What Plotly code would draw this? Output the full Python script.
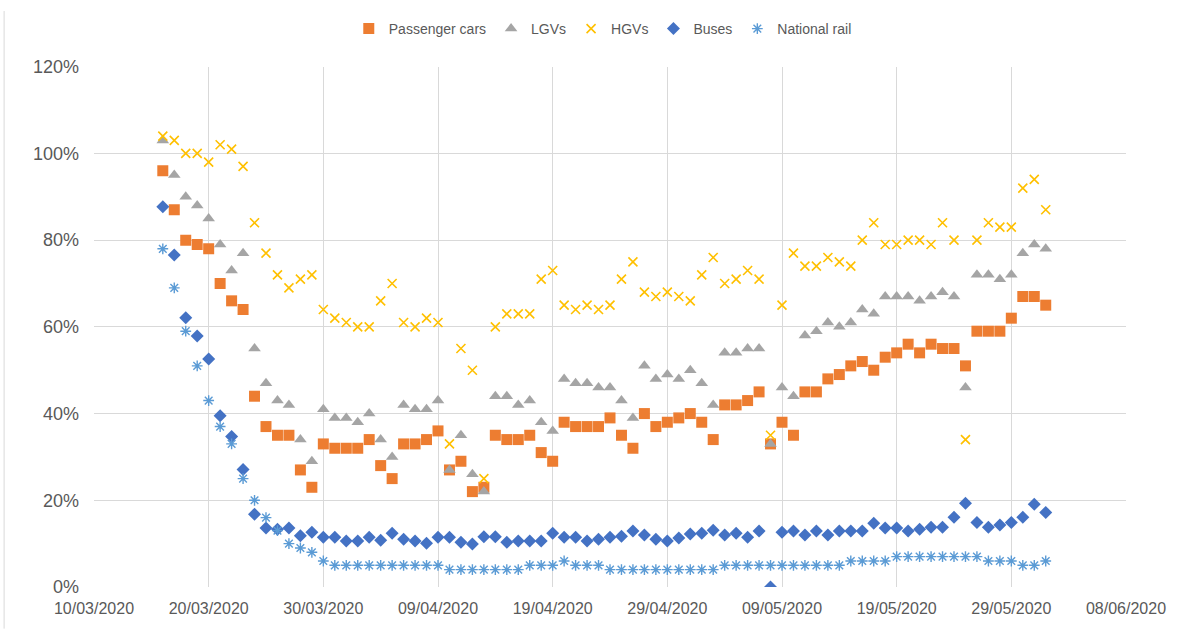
import pandas as pd
import plotly.graph_objects as go

dates = pd.date_range("2020-03-16", "2020-06-01", freq="D")

passenger_cars = [
    96, 87, 80, 79, 78, 70, 66, 64, 44, 37, 35, 35, 27, 23, 33, 32,
    32, 32, 34, 28, 25, 33, 33, 34, 36, 27, 29, 22, 23, 35, 34, 34, 35, 31, 29, 38,
    37, 37, 37, 39, 35, 32, 40, 37, 38, 39,
    40, 38, 34, 42, 42, 43, 45, 33, 38, 35, 45, 45, 48, 49, 51, 52, 50, 53, 54, 56,
    54, 56, 55, 55, 51, 59, 59, 59, 62, 67, 67,
    65,
]
lgvs = [
    103, 95, 90, 88, 85, 79, 73, 77, 55, 47, 43, 42, 34, 29, 41, 39,
    39, 38, 40, 34, 30, 42, 41, 41, 43, 27, 35, 26, 22, 44, 44, 42, 43, 38, 36, 48,
    47, 47, 46, 46, 43, 39, 51, 48, 49, 48,
    50, 47, 42, 54, 54, 55, 55, 33, 46, 44, 58, 59, 61, 60, 61, 64, 63, 67, 67, 67,
    66, 67, 68, 67, 46, 72, 72, 71, 72, 77, 79,
    78,
]
hgvs = [
    104, 103, 100, 100, 98, 102, 101, 97, 84, 77, 72, 69, 71, 72, 64, 62,
    61, 60, 60, 66, 70, 61, 60, 62, 61, 33, 55, 50, 25, 60, 63, 63, 63, 71, 73, 65,
    64, 65, 64, 65, 71, 75, 68, 67, 68, 67,
    66, 72, 76, 70, 71, 73, 71, 35, 65, 77, 74, 74, 76, 75, 74, 80, 84, 79, 79, 80,
    80, 79, 84, 80, 34, 80, 84, 83, 83, 92, 94,
    87,
]
buses = [
    87.7, 76.6, 62.1, 57.9, 52.6, 39.5, 34.7, 27.1, 16.8, 13.6, 13.3, 13.6, 11.8, 12.6, 11.5, 11.5,
    10.6, 10.6, 11.5, 10.8, 12.4, 11.0, 10.6, 10.1, 11.5, 11.5, 10.3, 9.9, 11.6, 11.6,
    10.3, 10.6, 10.6, 10.6, 12.4, 11.5, 11.5, 10.6, 11.0, 11.5, 11.7, 12.9, 12.0, 11.0, 10.6, 11.3,
    12.2, 12.4, 13.1, 12.0, 12.4, 11.5, 12.9, 0.0, 12.6, 12.9, 12.0, 12.9, 12.0, 12.9, 12.9, 12.9,
    14.7, 13.6, 13.6, 12.9, 13.3, 13.8, 13.8, 16.1, 19.3, 14.9, 13.8, 14.3, 14.9, 16.1, 19.1,
    17.2,
]
national_rail = [
    78, 69, 59, 51, 43, 37, 33, 25, 20, 16, 13, 10, 9, 8, 6, 5,
    5, 5, 5, 5, 5, 5, 5, 5, 5, 4, 4, 4, 4, 4, 4, 4, 5, 5, 5, 6, 5, 5, 5, 4, 4, 4, 4, 4, 4, 4,
    4, 4, 4, 5, 5, 5, 5, 5, 5, 5, 5, 5, 5, 5, 6, 6, 6, 6, 7, 7, 7, 7, 7, 7, 7, 7, 6, 6, 6, 5, 5,
    6,
]

tick_dates = pd.date_range("2020-03-10", "2020-06-08", freq="10D")
tick_labels = [d.strftime("%d/%m/%Y") for d in tick_dates]

series = [
    ("Passenger cars", passenger_cars, dict(symbol="square", size=11, color="#ED7D31")),
    ("LGVs", lgvs, dict(symbol="triangle-up", size=11, color="#A5A5A5")),
    ("HGVs", hgvs, dict(symbol="x-thin", size=9, color="#FFC000",
                        line=dict(color="#FFC000", width=1.6))),
    ("Buses", buses, dict(symbol="diamond", size=10, color="#4472C4")),
    ("National rail", national_rail, dict(symbol="asterisk", size=9, color="#5B9BD5",
                                          line=dict(color="#5B9BD5", width=1.4))),
]

fig = go.Figure()
for name, vals, marker in series:
    fig.add_trace(go.Scatter(x=dates, y=vals, mode="markers", name=name, marker=marker))

grid = "#D9D9D9"
txt = "#595959"

fig.update_layout(
    width=1178, height=629,
    margin=dict(l=94, r=51, t=66, b=41),
    paper_bgcolor="white", plot_bgcolor="white",
    font=dict(family="Liberation Sans, Arial, sans-serif", color=txt),
    showlegend=True,
    legend=dict(orientation="h", x=0.493, xanchor="center",
                yref="container", y=1 - 29 / 629, yanchor="middle",
                font=dict(size=14, color=txt), itemwidth=30, tracegroupgap=0),
    xaxis=dict(
        range=[tick_dates[0], tick_dates[-1]],
        tickvals=list(tick_dates), ticktext=tick_labels,
        showgrid=True, gridcolor=grid, gridwidth=1,
        showline=False, zeroline=False, ticks="",
        ticklabelstandoff=10,
        tickfont=dict(size=16, color=txt),
    ),
    yaxis=dict(
        range=[0, 120], dtick=20, tick0=0, ticksuffix="%",
        showgrid=True, gridcolor=grid, gridwidth=1,
        showline=False, zeroline=False, ticks="",
        ticklabelstandoff=14,
        tickfont=dict(size=18, color=txt),
    ),
)

fig.add_shape(type="line", xref="paper", yref="paper",
              x0=-0.0871, x1=-0.0871, y0=-0.08, y1=1.107,
              line=dict(color=grid, width=1))

fig.write_html("out.html", config={"displayModeBar": False},
               post_script="document.body.style.margin='0px';")
